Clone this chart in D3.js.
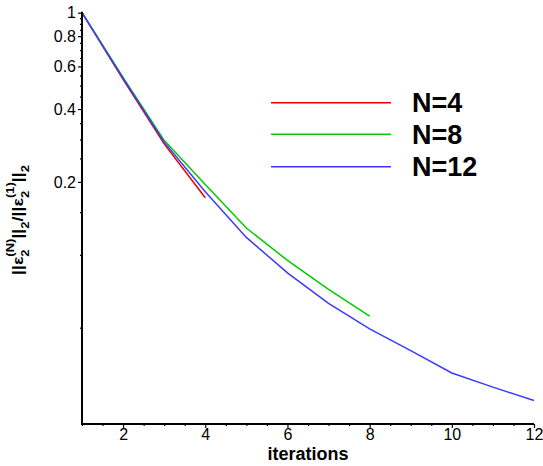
<!DOCTYPE html>
<html><head><meta charset="utf-8">
<script src="https://cdn.jsdelivr.net/npm/d3@7"></script>
<style>
html,body{margin:0;padding:0;background:#fff;}
svg{display:block;}
text{font-family:"Liberation Sans",Arial,sans-serif;}
</style></head>
<body>
<svg id="c" width="543" height="466"></svg>
<script>
// ---- data ----
const iterations = [1,2,3,4,5,6,7,8,9,10,11,12];
const seriesN4  = [1, 0.530, 0.287, 0.172];
const seriesN8  = [1, 0.540, 0.297, 0.195, 0.129, 0.0948, 0.0719, 0.0558];
const seriesN12 = [1, 0.535, 0.292, 0.182, 0.118, 0.0842, 0.0630, 0.0494, 0.0402, 0.0325, 0.0284, 0.0250];
const seriesNames = ["N=4","N=8","N=12"];
const seriesColors = ["#e60000","#00cc00","#3a3aff"];
const yMajorTicks = [1,0.8,0.6,0.4,0.2];
const yMinorTicks = [0.95,0.9,0.85,0.75,0.7,0.65,0.55,0.5,0.45,0.35,0.3,0.25,0.15,0.1,0.05];
const xMajorTicks = [2,4,6,8,10,12];
const xMinorTicks = [1,1.5,2.5,3,3.5,4.5,5,5.5,6.5,7,7.5,8.5,9,9.5,10.5,11,11.5];

const svg = d3.select("#c");
const x = d3.scaleLinear().domain([1,12]).range([82,534]);
const y = d3.scaleLog().domain([0.02,1]).range([424,12.7]);

const allSeries = [seriesN4, seriesN8, seriesN12];
const line = d3.line().x((d,i)=>x(iterations[i])).y(d=>y(d));

allSeries.forEach((s,k)=>{
  svg.append("path").datum(s).attr("d",line)
    .attr("fill","none").attr("stroke",seriesColors[k]).attr("stroke-width",1.5);
});

// axes
const gx = svg.append("g").attr("transform","translate(0,424)");
gx.call(d3.axisBottom(x).tickValues(xMajorTicks).tickSize(4).tickPadding(1).tickFormat(d3.format("d")));
const gxm = svg.append("g").attr("transform","translate(0,424)");
gxm.call(d3.axisBottom(x).tickValues(xMinorTicks).tickSize(2).tickFormat(""));
const gy = svg.append("g").attr("transform","translate(82,0)");
gy.call(d3.axisLeft(y).tickValues(yMajorTicks).tickSize(4).tickPadding(2).tickFormat(d=>String(d)));
const gym = svg.append("g").attr("transform","translate(82,0)");
gym.call(d3.axisLeft(y).tickValues(yMinorTicks).tickSize(2).tickFormat(""));

[gx,gxm,gy,gym].forEach(g=>{
  g.select(".domain").remove();
  g.selectAll("line").attr("stroke","#000").attr("stroke-width",1.2);
  g.selectAll("text").attr("font-size",16).attr("fill","#000").attr("font-family","Liberation Sans, Arial, sans-serif");
});
// axis lines
svg.append("line").attr("x1",82).attr("x2",82).attr("y1",y(1)-1).attr("y2",425)
  .attr("stroke","#000").attr("stroke-width",2);
svg.append("line").attr("x1",81).attr("x2",x(12)).attr("y1",424).attr("y2",424)
  .attr("stroke","#000").attr("stroke-width",2);

// x label
svg.append("text").attr("x",308).attr("y",460).attr("text-anchor","middle")
  .attr("font-size",18).attr("font-weight","bold").text("iterations");

// y label
const yl = svg.append("g").attr("transform","translate(23,220) rotate(-90)");
const inner = yl.append("g");
const pieces = [
  {t:"||\u03b5", s:15, dy:0},
  {t:"(N)", s:11, dy:-9, stack:true},
  {t:"2", s:11, dy:6},
  {t:"||", s:15, dy:0},
  {t:"2", s:11, dy:6},
  {t:"/||\u03b5", s:15, dy:0},
  {t:"(1)", s:11, dy:-9, stack:true},
  {t:"2", s:11, dy:6},
  {t:"||", s:15, dy:0},
  {t:"2", s:11, dy:6}
];
let cx = 0, stackStart = null, stackW = 0;
pieces.forEach(p=>{
  const start = (stackStart!==null) ? stackStart : cx;
  const t = inner.append("text").attr("x",start).attr("y",p.dy)
    .attr("font-size",p.s).attr("font-weight","bold").text(p.t);
  const w = t.node().getComputedTextLength();
  if (p.stack) { stackStart = cx; stackW = w; }
  else if (stackStart!==null) { cx = stackStart + Math.max(w, stackW); stackStart = null; }
  else { cx += w; }
});
const targetLen = 110;
inner.attr("transform",`scale(${targetLen/cx},1) translate(${-cx/2},0)`);

// legend
const lg = [102.7,134.3,166.7];
seriesNames.forEach((n,k)=>{
  svg.append("line").attr("x1",271).attr("x2",391).attr("y1",lg[k]).attr("y2",lg[k])
    .attr("stroke",seriesColors[k]).attr("stroke-width",1.5);
  svg.append("text").attr("x",412).attr("y",lg[k]+9.6).attr("font-size",27)
    .attr("font-weight","bold").text(n);
});
</script>
</body></html>
